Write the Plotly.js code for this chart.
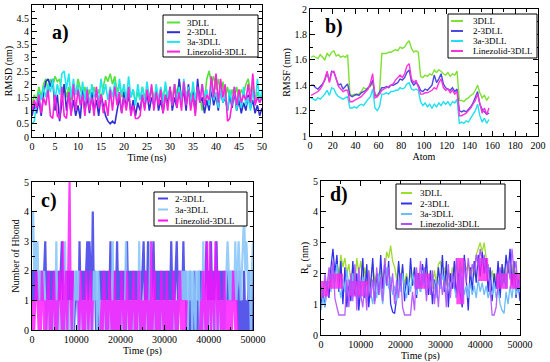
<!DOCTYPE html>
<html><head><meta charset="utf-8">
<script src="https://cdn.plot.ly/plotly-3.0.1.min.js"></script>
<style>html,body{margin:0;padding:0;background:#fff}#chart{width:550px;height:362px}</style>
</head><body><div id="chart"></div>
<script>
// ---------- series names ----------
const namesA = ["3DLL", "2-3DLL", "3a-3DLL", "Linezolid-3DLL"];
const namesB = ["3DLL", "2-3DLL", "3a-3DLL", "Linezolid-3DLL"];
const namesC = ["2-3DLL", "3a-3DLL", "Linezolid-3DLL"];
const namesD = ["3DLL", "2-3DLL", "3a-3DLL", "Linezolid-3DLL"];

// ---------- a) RMSD (nm) vs time (ns), sampled every 0.5 ns ----------
const rmsd3DLL = [1.2,1.6,1.4,1.9,1.5,2.0,2.2,1.7,2.2,1.9,2.3,2.1,2.2,1.6,2.0,1.5,1.9,1.4,2.0,1.6,2.2,1.8,1.5,1.9,1.4,1.8,1.3,1.9,1.5,1.8,1.4,1.9,2.3,2.1,2.4,2.0,2.3,1.7,2.0,1.5,1.8,1.4,1.9,1.5,1.8,1.3,1.7,1.4,1.9,1.5,1.8,1.4,1.9,1.5,1.7,1.3,1.8,1.5,1.9,1.4,1.8,1.5,2.0,1.6,2.1,1.5,1.8,1.4,1.9,1.5,1.8,1.4,1.9,1.6,1.0,1.4,2.2,2.5,2.0,2.3,1.8,2.2,1.6,2.1,1.5,1.9,1.4,1.8,1.5,1.9,1.4,1.8,1.6,2.0,2.2,1.7,1.9,1.4,1.7,1.3,1.6];
const rmsd2 = [0.8,1.2,0.9,1.4,0.8,1.6,2.1,2.2,1.9,2.2,1.0,1.6,0.6,1.3,2.0,1.0,1.7,0.9,1.4,0.8,1.2,0.7,1.8,1.0,1.5,0.9,1.7,1.0,1.4,0.8,1.6,1.2,0.8,0.6,0.5,0.6,0.5,1.0,1.5,0.9,1.7,1.1,1.6,0.9,1.4,0.8,1.3,1.0,1.6,1.1,1.7,1.0,1.5,1.2,1.8,1.0,1.4,0.9,1.6,1.2,1.9,1.0,1.5,1.1,2.2,1.3,1.8,1.0,2.0,1.2,1.7,0.9,2.2,1.3,1.5,0.9,1.4,1.0,1.8,1.2,1.6,1.0,1.9,1.3,1.5,1.0,1.6,1.1,1.7,1.0,1.4,0.9,1.3,1.0,1.6,1.1,1.4,0.9,1.2,0.8,1.1];
const rmsd3a = [0.5,0.6,1.3,1.7,1.4,1.9,1.5,2.0,1.7,2.2,1.4,2.0,1.6,2.4,2.5,1.8,2.4,1.5,2.2,1.6,2.0,1.3,2.1,1.4,1.9,1.2,2.0,1.5,1.8,1.3,2.2,1.6,2.0,1.4,1.9,1.5,2.1,1.3,2.2,1.6,2.0,1.4,2.3,1.5,1.8,1.2,2.0,1.4,1.9,1.3,2.1,1.5,1.8,1.2,2.0,1.4,1.9,1.3,2.1,1.5,1.8,1.2,2.0,1.4,1.9,1.3,2.2,1.5,1.9,1.2,2.1,1.4,1.8,1.3,2.0,1.5,1.8,1.2,2.0,1.4,1.7,1.1,1.9,1.3,1.6,1.0,1.8,1.2,1.9,1.0,1.7,1.1,1.9,1.2,1.5,1.0,1.8,1.2,2.2,1.3,1.8];
const rmsdLin = [1.0,1.4,1.1,1.6,0.9,1.5,1.2,1.8,0.8,0.7,1.6,0.8,0.7,1.9,0.8,0.7,1.7,0.8,2.0,1.0,1.8,1.2,1.6,0.8,1.8,1.0,1.5,0.8,1.9,1.1,1.6,0.9,1.4,0.8,1.8,1.0,1.9,1.2,1.7,0.9,1.5,1.0,1.9,0.8,1.2,0.7,0.7,0.8,1.6,1.0,1.8,1.3,2.0,1.0,1.7,1.2,1.8,0.9,1.6,1.0,1.9,1.2,2.0,1.1,1.7,1.0,2.1,1.2,1.8,1.0,1.6,0.8,1.9,1.3,2.0,1.2,1.6,1.4,2.3,1.5,2.4,1.3,2.2,1.5,2.0,0.6,0.7,1.4,1.9,1.2,1.8,1.3,1.6,1.4,2.0,1.3,2.4,1.2,1.5,1.3,1.5];

// ---------- b) RMSF (nm) vs atom, every 2nd atom (1..157) ----------
const rmsf3DLL = [1.62,1.63,1.62,1.61,1.64,1.62,1.60,1.65,1.63,1.66,1.67,1.63,1.64,1.62,1.63,1.62,1.64,
  1.33,1.32,1.33,1.32,1.33,1.35,1.38,1.37,1.38,1.39,1.42,1.33,1.32,1.35,1.65,
  1.65,1.65,1.66,1.66,1.67,1.68,1.67,1.70,1.69,1.70,1.73,1.75,1.69,1.66,1.67,1.66,
  1.47,1.46,1.48,1.47,1.49,1.48,1.52,1.50,1.52,1.51,1.49,1.48,1.50,1.47,1.49,1.48,1.51,
  1.28,1.28,1.27,1.29,1.30,1.32,1.33,1.36,1.40,1.34,1.30,1.32,1.28,1.31];
const rmsf2 = [1.40,1.40,1.38,1.37,1.39,1.41,1.44,1.50,1.43,1.51,1.50,1.44,1.40,1.41,1.37,1.39,1.41,
  1.32,1.31,1.32,1.33,1.32,1.34,1.35,1.36,1.38,1.40,1.44,1.32,1.31,1.34,1.38,
  1.38,1.39,1.38,1.40,1.40,1.41,1.42,1.45,1.44,1.46,1.50,1.52,1.43,1.40,1.42,1.40,
  1.36,1.35,1.37,1.36,1.38,1.40,1.48,1.42,1.45,1.49,1.41,1.38,1.37,1.36,1.38,1.35,1.37,
  1.20,1.19,1.20,1.19,1.21,1.23,1.26,1.30,1.35,1.25,1.21,1.19,1.17,1.18];
const rmsf3a = [1.30,1.29,1.28,1.30,1.29,1.31,1.33,1.36,1.32,1.38,1.37,1.33,1.31,1.30,1.29,1.30,1.31,
  1.22,1.22,1.23,1.22,1.24,1.25,1.24,1.27,1.29,1.31,1.37,1.22,1.20,1.23,1.33,
  1.33,1.34,1.33,1.35,1.35,1.36,1.36,1.38,1.37,1.38,1.41,1.42,1.37,1.36,1.37,1.36,
  1.27,1.24,1.26,1.23,1.25,1.22,1.25,1.23,1.26,1.24,1.27,1.25,1.27,1.24,1.27,1.26,1.29,
  1.10,1.11,1.10,1.12,1.11,1.14,1.17,1.20,1.25,1.16,1.11,1.14,1.10,1.13];
const rmsfLin = [1.32,1.33,1.34,1.35,1.37,1.40,1.45,1.51,1.42,1.50,1.51,1.45,1.39,1.37,1.35,1.36,1.36,
  1.27,1.27,1.28,1.29,1.30,1.31,1.33,1.35,1.37,1.42,1.49,1.30,1.31,1.33,1.36,
  1.37,1.38,1.39,1.40,1.41,1.44,1.46,1.48,1.46,1.49,1.55,1.57,1.45,1.42,1.44,1.38,
  1.33,1.33,1.34,1.34,1.35,1.36,1.38,1.37,1.42,1.45,1.38,1.36,1.37,1.34,1.36,1.33,1.35,
  1.16,1.16,1.17,1.18,1.20,1.22,1.25,1.28,1.33,1.24,1.18,1.22,1.17,1.22];

// ---------- c) Number of H-bonds vs time (ps), sampled every 250 ps ----------
const hb2 = [1,2,1,2,1,2,1,2,1,2, 1,2,3,1,2,1,2,1,2,1, 2,1,2,1,2,1,2,3,1,2, 1,2,1,2,1,2,1,2,0,1,
  2,1,0,3,1,2,1,2,1,2, 3,1,3,2,1,4,1,2,0,1, 0,2,1,2,1,2,1,2,1,2, 1,3,1,2,1,2,1,3,1,2,
  1,2,1,2,1,2,3,1,2,1, 2,1,2,1,2,1,2,1,2,1, 2,3,1,2,1,3,1,2,1,2, 3,1,2,1,2,1,2,1,2,1,
  2,1,2,1,2,1,3,1,2,1, 2,3,1,2,1,2,1,3,1,2, 0,1,0,2,0,1,0,2,0,1, 0,2,1,2,1,2,1,2,3,1,
  2,1,3,1,2,1,2,3,1,2, 1,2,1,2,1,2,1,2,1,2, 1,2,1,2,1,2,1,0,2,0, 1,0,2,0,1,0,2,0,1,0, 2];
const hb3a = [3,4,2,3,2,3,1,2,1,2, 1,2,1,0,1,0,1,0,1,0, 1,0,3,0,1,0,1,0,1,0, 3,0,1,0,1,0,1,0,1,2,
  1,2,0,2,1,0,1,0,1,0, 1,0,1,0,1,0,2,1,2,0, 2,1,0,1,0,1,0,1,0,1, 0,1,0,3,0,1,0,1,0,1,
  0,1,0,1,0,3,0,1,0,1, 0,1,0,1,0,1,0,3,0,1, 0,1,0,1,0,1,0,3,0,1, 0,1,0,1,0,1,0,1,0,1,
  0,1,0,1,0,1,0,1,0,1, 0,1,0,1,2,1,2,1,2,1, 2,0,2,1,2,0,2,1,0,2, 1,2,0,1,0,3,0,1,0,1,
  0,1,0,1,0,1,0,1,0,1, 0,1,0,1,0,1,2,3,2,1, 2,1,2,1,3,1,2,3,2,1, 2,3,4,2,3,2,1,2,0,2, 3];
const hbLin = [0,1,0,1,2,1,0,1,0,2, 1,0,1,0,1,2,0,1,0,1, 2,0,1,0,1,2,1,0,3,0, 1,2,0,3,5,1,0,2,null,null,
  null,null,1,0,2,1,0,1,0,2, 1,0,1,2,0,1,null,null,null,null, null,null,0,1,0,2,1,0,1,0, 2,1,0,1,0,2,0,1,0,1,
  0,2,1,0,1,0,2,1,0,1, 0,1,2,0,1,0,1,2,0,1, 0,1,0,2,1,0,1,0,3,0, 1,2,0,1,0,1,0,2,1,0,
  1,0,2,0,1,0,1,0,2,1, 0,1,0,1,2,0,1,0,1,0, 1,null,null,null,null,null,null,null,null,null, null,null,0,1,0,2,1,0,3,0,
  1,3,0,2,1,0,3,1,0,2, 1,0,1,0,2,0,1,0,1,0, 1,0,2,1,0,1,0,null,null,null, null,null,null,null,null,null,null,null,null,null, null];

// ---------- d) Rg (nm) vs time (ps), sampled every 500 ps ----------
const rg3DLL = [1.2,1.5,1.8,1.4,2.0,1.6,2.3,1.8,2.4,1.9,2.6,2.2,2.5,2.0,2.3,1.7,2.2,1.6,2.5,2.0,2.4,1.8,2.2,1.6,2.1,1.5,2.3,1.7,2.0,1.5,2.2,1.8,2.1,2.7,2.5,2.9,2.4,2.2,1.8,2.3,1.7,2.2,1.6,2.0,1.5,2.1,1.6,2.2,1.7,2.0,1.5,2.2,1.7,2.1,1.6,2.0,1.5,2.1,1.7,2.3,2.4,1.8,2.2,1.6,2.1,1.7,2.2,1.8,2.3,1.9,2.4,2.0,2.5,2.1,2.3,1.8,2.2,1.9,2.6,2.8,3.0,2.7,3.0,2.5,2.2,1.8,2.1,1.6,2.0,1.5,2.1,1.7,2.2,1.8,2.4,2.0,2.3,1.7,2.1,1.6,2.0];
const rg2 = [1.0,1.4,0.9,1.7,1.2,2.2,2.8,2.0,2.6,1.4,2.4,1.0,2.2,0.9,1.8,1.1,2.4,1.3,2.0,0.8,1.6,2.5,1.2,2.3,0.9,1.8,2.5,1.1,2.0,1.3,2.6,1.5,2.3,1.6,2.4,1.0,0.75,0.7,1.2,2.4,1.5,2.3,1.1,1.9,1.3,2.5,1.6,2.2,1.2,2.0,1.4,2.3,1.7,2.5,1.3,2.1,1.0,1.8,1.3,2.2,1.6,2.6,1.4,2.4,0.9,2.0,1.5,2.4,1.2,2.0,1.3,0.9,2.6,1.8,0.8,2.2,1.4,2.4,1.7,2.6,1.9,2.7,2.0,2.5,1.4,2.2,1.1,2.0,1.5,2.4,1.2,2.3,1.7,2.6,2.0,2.8,1.6,2.4,1.2,1.8,1.1];
const rg3a = [0.8,1.2,0.9,1.6,2.0,1.4,2.2,1.7,2.3,1.6,1.2,1.8,1.4,2.1,1.6,1.3,2.0,1.5,1.2,1.8,1.3,1.9,1.5,1.1,1.7,1.3,1.0,1.6,1.2,2.0,1.4,1.0,1.7,2.2,1.5,1.9,1.3,1.6,1.1,1.8,1.4,2.0,1.5,1.2,1.8,1.4,2.0,1.6,1.3,1.8,1.4,2.1,1.6,1.3,1.8,1.5,2.0,1.6,1.2,1.8,1.5,2.0,1.6,1.3,1.7,1.4,1.9,1.5,1.2,1.7,1.4,1.9,1.3,1.6,1.2,1.7,1.3,1.6,1.2,1.8,1.4,1.7,1.3,1.6,1.2,1.5,1.3,1.7,1.2,1.5,1.0,0.8,0.7,1.4,1.0,1.6,1.2,1.8,1.3,1.6,1.4];
const rgLin = [1.6,1.2,2.0,1.5,2.2,1.8,2.4,1.2,0.9,0.65,0.65,0.65,0.65,1.8,0.9,2.0,1.1,2.3,0.8,2.2,1.3,0.9,1.7,0.8,2.1,1.2,1.8,1.0,2.2,1.3,1.9,1.1,2.5,1.6,2.2,1.4,2.0,1.0,1.8,1.2,2.0,0.9,0.65,0.65,0.65,0.65,1.4,0.8,2.2,1.5,2.4,1.6,2.2,1.1,1.9,1.3,2.1,1.0,1.7,0.9,2.0,1.3,1.8,0.9,2.3,1.2,2.0,1.5,2.5,1.4,2.2,1.0,2.4,1.7,2.5,1.9,2.3,2.0,2.6,2.2,2.8,2.3,2.6,2.0,2.3,1.4,0.65,0.65,0.9,1.8,2.2,1.6,2.0,1.5,2.4,1.8,2.8,2.0,2.4,1.5,1.8];
// dense-oscillation bands of Linezolid-3DLL in d)
const blockStart = [0, 2000, 7000, 23500, 34000, 39500, 44000, 47500];
const blockEnd   = [2000, 5500, 12000, 27500, 36000, 42000, 47000, 50000];
const blockLow   = [1.25, 1.5, 1.25, 1.5, 1.0, 1.75, 1.5, 1.5];
const blockHigh  = [1.75, 2.0, 1.75, 2.0, 2.5, 2.5, 2.0, 2.0];

// ---------- sampling grids ----------
function grid(start, step, n) { const g = []; for (let i = 0; i < n; i++) g.push(start + i * step); return g; }
const tA = grid(0, 0.5, rmsd3DLL.length);
const atoms = grid(1, 2, rmsf3DLL.length);
const tC = grid(0, 250, hb2.length);
const tD = grid(0, 500, rg3DLL.length);

// ---------- styling ----------
const FONT = "'Times New Roman', 'Liberation Serif', Times, serif";
const colA = ["#55e03a", "#2f2fd8", "#1ee6f0", "#ff22dd"];
const colB = ["#7fe033", "#4a4ae0", "#22dff0", "#ff33dd"];
const colC = ["#4646e8", "#8cc8fa", "#ff10ff"];
const colD = ["#9edc30", "#3030ee", "#6cbcff", "#b44cff"];

const px = x => x / 550, py = y => 1 - y / 362;

const traces = [];
function line(x, y, name, color, xa, ya, w, op) {
  traces.push({type: "scatter", mode: "lines", x: x, y: y, name: name, xaxis: xa, yaxis: ya,
    line: {color: color, width: w}, opacity: op || 1, showlegend: false, connectgaps: false, hoverinfo: "skip"});
}
line(tA, rmsd3DLL, namesA[0], colA[0], "x", "y", 1.6);
line(tA, rmsd2, namesA[1], colA[1], "x", "y", 1.6);
line(tA, rmsd3a, namesA[2], colA[2], "x", "y", 1.6);
line(tA, rmsdLin, namesA[3], colA[3], "x", "y", 1.6);

line(atoms, rmsf3DLL, namesB[0], colB[0], "x2", "y2", 1.4);
line(atoms, rmsf2, namesB[1], colB[1], "x2", "y2", 1.4);
line(atoms, rmsf3a, namesB[2], colB[2], "x2", "y2", 1.4);
line(atoms, rmsfLin, namesB[3], colB[3], "x2", "y2", 1.4);

line(tC, hb2, namesC[0], colC[0], "x3", "y3", 2.2, 0.9);
line(tC, hb3a, namesC[1], colC[1], "x3", "y3", 2.2, 0.9);
line(tC, hbLin, namesC[2], colC[2], "x3", "y3", 2.2, 0.8);

line(tD, rg3DLL, namesD[0], colD[0], "x4", "y4", 1.3);
line(tD, rg2, namesD[1], colD[1], "x4", "y4", 1.3);
line(tD, rg3a, namesD[2], colD[2], "x4", "y4", 1.3);
// blocks as filled polygons built from the block arrays
const bx = [], by = [];
for (let i = 0; i < blockStart.length; i++) {
  bx.push(blockStart[i], blockEnd[i], blockEnd[i], blockStart[i], blockStart[i], null);
  by.push(blockLow[i], blockLow[i], blockHigh[i], blockHigh[i], blockLow[i], null);
}
traces.push({type: "scatter", mode: "none", x: bx, y: by, fill: "toself", fillcolor: "rgba(255,30,235,0.8)",
  xaxis: "x4", yaxis: "y4", showlegend: false, hoverinfo: "skip", name: namesD[3]});
line(tD, rgLin, namesD[3], colD[3], "x4", "y4", 1.3, 0.9);

// ---------- axes ----------
function ax(domain, anchor, range, dtick, minorDtick, title, extra) {
  return Object.assign({
    domain: domain, anchor: anchor, range: range, dtick: dtick, tick0: range[0],
    showline: true, linecolor: "black", linewidth: 1, mirror: "allticks",
    ticks: "inside", ticklen: 5, tickwidth: 1, tickcolor: "black",
    minor: {ticks: "inside", ticklen: 3, tickwidth: 1, tickcolor: "black", dtick: minorDtick, showgrid: false},
    showgrid: false, zeroline: false, automargin: false, fixedrange: true,
    tickfont: {family: FONT, size: 10, color: "black", weight: "normal"},
    title: {text: title, font: {family: FONT, size: 10, color: "black", weight: "normal"}, standoff: 2}
  }, extra || {});
}
const xdA = [px(32), px(262)], ydA = [py(137), py(5)];
const xdB = [px(310), px(538)], ydB = [py(136), py(9)];
const xdC = [px(32), px(253)], ydC = [py(330), py(182)];
const xdD = [px(321), px(520)], ydD = [py(335), py(181)];

const layout = {
  width: 550, height: 362, margin: {l: 0, r: 0, t: 0, b: 0},
  paper_bgcolor: "white", plot_bgcolor: "white", showlegend: false,
  font: {family: FONT, size: 10, color: "black", weight: "normal"},
  xaxis: ax(xdA, "y", [0, 50], 5, 2.5, "Time (ns)"),
  yaxis: ax(ydA, "x", [0, 5], 0.5, 0.25, "RMSD (nm)"),
  xaxis2: ax(xdB, "y2", [0, 200], 20, 10, "Atom"),
  yaxis2: ax(ydB, "x2", [1, 2], 0.2, 0.1, "RMSF (nm)"),
  xaxis3: ax(xdC, "y3", [0, 50000], 10000, 5000, "Time (ps)", {tickformat: "d"}),
  yaxis3: ax(ydC, "x3", [0, 5], 1, 0.5, "Number of Hbond"),
  xaxis4: ax(xdD, "y4", [0, 50000], 10000, 5000, "Time (ps)", {tickformat: "d"}),
  yaxis4: ax(ydD, "x4", [0, 5], 1, 0.5, "R<sub>g</sub> (nm)"),
  shapes: [], annotations: []
};

// panel labels
[["a)", 60, 32], ["b)", 334, 26], ["c)", 49, 200], ["d)", 339, 194]].forEach(l => {
  layout.annotations.push({text: l[0], x: px(l[1]), y: py(l[2]), xref: "paper", yref: "paper",
    xanchor: "center", yanchor: "middle", showarrow: false, font: {family: FONT, size: 20, color: "black", weight: "bold"}});
});

// boxed legends
function legend(names, colors, box, rows, lx0, lx1, tx) {
  layout.shapes.push({type: "rect", xref: "paper", yref: "paper", x0: px(box[0]), x1: px(box[1]),
    y0: py(box[3]), y1: py(box[2]), line: {color: "black", width: 1}, fillcolor: "white", layer: "above"});
  names.forEach((n, i) => {
    layout.shapes.push({type: "line", xref: "paper", yref: "paper", x0: px(lx0), x1: px(lx1),
      y0: py(rows[i]), y1: py(rows[i]), line: {color: colors[i], width: 2}, layer: "above"});
    layout.annotations.push({text: n, x: px(tx), y: py(rows[i]), xref: "paper", yref: "paper",
      xanchor: "left", yanchor: "middle", showarrow: false, height: 8, borderpad: 0,
      font: {family: FONT, size: 9, color: "black", weight: "normal"}});
  });
}
legend(namesA, colA, [163, 258, 15, 57], [22.5, 32.2, 41.9, 51.6], 167, 180, 186);
legend(namesB, colB, [448, 537, 14, 58], [21, 31, 41, 51], 451, 463, 472);
legend(namesC, colC, [154, 247, 192, 226], [198.5, 209.5, 220.5], 158, 168, 174);
legend(namesD, colD, [396, 505, 184, 229], [193, 203.5, 214, 224], 401, 412, 419);

Plotly.newPlot("chart", traces, layout, {staticPlot: true, displayModeBar: false});
</script>
</body></html>
